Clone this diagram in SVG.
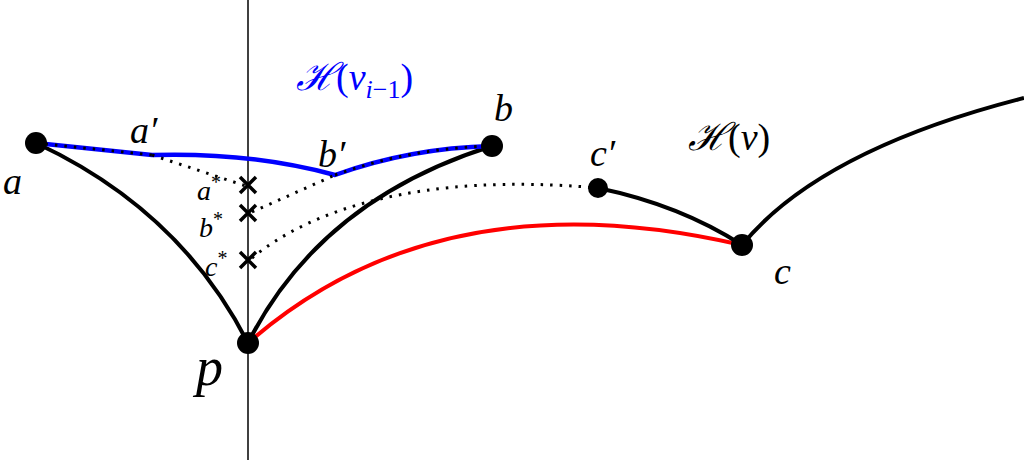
<svg xmlns="http://www.w3.org/2000/svg" width="1024" height="460" viewBox="0 0 1024 460">
<style>
.t{font-family:"Liberation Serif","DejaVu Serif",serif;font-style:italic;fill:#000}
.n{font-style:normal}
.c{fill:none;stroke:#000;stroke-width:4}
.dot{fill:none;stroke:#000;stroke-width:3;stroke-dasharray:2.5 7;stroke-linecap:butt}
.x{stroke:#000;stroke-width:3.5}
</style>
<rect width="1024" height="460" fill="#fff"/>
<line x1="248" y1="0" x2="248" y2="460" stroke="#000" stroke-width="1.5"/>
<g id="connectors">
<path class="c" d="M36,143 Q180,210 248,343"/>
<path class="c" d="M248,343 Q320,200 492,146"/>
<path d="M248,343 Q440,175 742,245" fill="none" stroke="#f00" stroke-width="4"/>
<path class="c" d="M598,188 Q680,205 742,245"/>
<path class="c" d="M742,245 Q820,150 1024,98"/>
<path d="M36,143 L152,155 Q250,152 335,175 Q410,148 492,146" fill="none" stroke="#00f" stroke-width="4.5"/>
<path class="dot" d="M36,143 L152,155"/>
<path class="dot" d="M335,175 Q410,148 492,146"/>
<path class="dot" d="M152,155 L246,186"/>
<path class="dot" d="M252,212 L335,175"/>
<path class="dot" d="M252,258 C310,210 420,172 598,188"/>
</g>
<g id="a"><circle cx="36" cy="143" r="11"/><text class="t" x="3" y="194" font-size="38">a</text></g>
<g id="a-prime"><text class="t" x="130" y="143" font-size="38">a′</text></g>
<g id="b"><circle cx="492" cy="146" r="11"/><text class="t" x="494" y="121" font-size="38">b</text></g>
<g id="b-prime"><text class="t" x="318" y="167" font-size="38">b′</text></g>
<g id="c"><circle cx="742" cy="245" r="11"/><text class="t" x="774" y="284" font-size="38">c</text></g>
<g id="c-prime"><circle cx="598" cy="188" r="10"/><text class="t" x="590" y="166" font-size="38">c′</text></g>
<g id="p"><circle cx="248" cy="343" r="11"/><text class="t" x="196" y="385" font-size="54">p</text></g>
<g id="a-star"><path class="x" d="M240,177 L256,193 M256,177 L240,193"/><text class="t" x="197" y="200" font-size="28">a<tspan font-size="20" dy="-11" class="n">*</tspan></text></g>
<g id="b-star"><path class="x" d="M240,205 L256,221 M256,205 L240,221"/><text class="t" x="199" y="237" font-size="28">b<tspan font-size="20" dy="-11" class="n">*</tspan></text></g>
<g id="c-star"><path class="x" d="M240,252 L256,268 M256,252 L240,268"/><text class="t" x="205" y="276" font-size="28">c<tspan font-size="20" dy="-11" class="n">*</tspan></text></g>
<g id="H-vi-1"><text class="t" x="296" y="90" font-size="38" style="fill:#00f">ℋ<tspan class="n">(</tspan>v<tspan font-size="26" dy="8">i</tspan><tspan font-size="26" class="n">−1</tspan><tspan class="n" dy="-8">)</tspan></text></g>
<g id="H-v"><text class="t" x="688" y="150" font-size="38">ℋ<tspan class="n">(</tspan>v<tspan class="n">)</tspan></text></g>
</svg>
